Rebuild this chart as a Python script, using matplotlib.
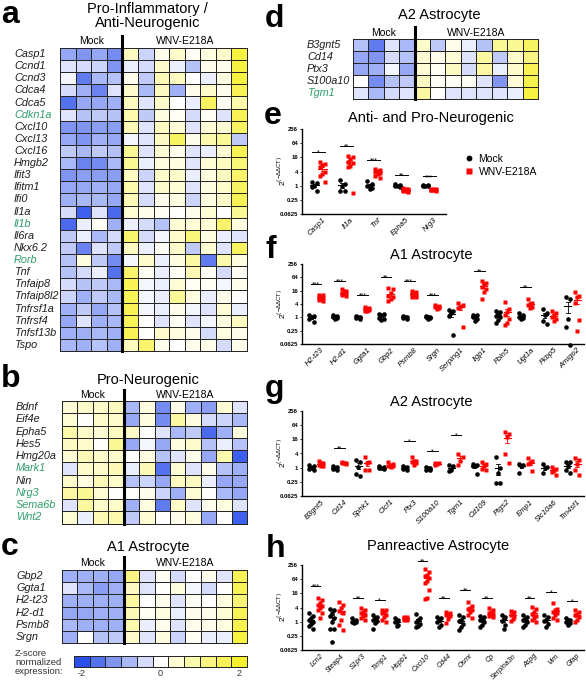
import numpy as np
import matplotlib.pyplot as plt
from matplotlib.colors import LinearSegmentedColormap
from matplotlib.lines import Line2D
from matplotlib.transforms import blended_transform_factory

plt.rcParams['font.family'] = ['Liberation Sans', 'DejaVu Sans']

# ---------------- heatmap data: z-scores, 4 Mock + 8 WNV-E218A columns ----------------
a_genes = ['Casp1', 'Ccnd1', 'Ccnd3', 'Cdca4', 'Cdca5', 'Cdkn1a', 'Cxcl10', 'Cxcl13', 'Cxcl16',
           'Hmgb2', 'Ifit3', 'Ifitm1', 'Ifi0', 'Il1a', 'Il1b', 'Il6ra', 'Nkx6.2', 'Rorb', 'Tnf',
           'Tnfaip8', 'Tnfaip8l2', 'Tnfrsf1a', 'Tnfrsf4', 'Tnfsf13b', 'Tspo']
a_green = ['Cdkn1a', 'Il1b', 'Rorb']
a_z = [
    [-1.0, -1.2, -1.0, -1.3, 0.6, -0.5, 0.2, 0.5, 0.1, 0.3, 0.5, 1.8],
    [-0.3, -0.4, -0.5, -1.2, -0.2, -0.4, 0.5, -0.2, -0.7, 0.2, 0.2, 1.8],
    [-0.1, -1.5, -0.8, -0.7, 0.2, -0.6, 0.7, 0.6, 0.0, -0.2, 0.3, 1.8],
    [-0.4, -0.9, -1.4, -0.3, 0.5, -0.8, 0.6, -0.9, 0.2, 0.5, 0.2, 1.6],
    [-1.6, -1.0, -1.0, -0.9, 0.6, -0.3, 0.5, 0.0, -0.2, 1.5, 0.1, 0.8],
    [-0.3, -0.7, -0.6, -0.7, 0.8, -0.6, 0.3, 0.1, -0.4, 0.1, -0.3, 1.6],
    [-1.2, -1.2, -1.1, -1.1, 0.7, -0.3, 0.6, 0.4, -0.3, 0.4, 0.4, 1.5],
    [-1.0, -1.2, -0.9, -1.0, -0.1, -0.3, 0.6, 1.5, 0.2, 0.8, 1.0, -0.6],
    [-0.6, -0.8, -0.6, -0.7, 1.0, -0.3, 0.4, 0.2, -0.3, -0.2, 0.4, 1.6],
    [-0.8, -1.4, -1.3, -0.8, 1.0, -0.2, 0.3, 0.3, -0.3, 0.4, 0.6, 1.3],
    [-1.2, -1.1, -1.1, -1.1, 0.6, -0.5, 0.5, 0.5, -0.2, 0.3, 0.6, 1.4],
    [-1.0, -1.0, -0.9, -1.0, 0.8, -0.3, 0.5, 0.4, -0.3, 0.3, 0.5, 1.5],
    [-0.9, -0.8, -0.8, -1.0, 0.7, -0.4, 0.2, 0.3, -0.5, 0.3, 0.5, 1.6],
    [-0.4, -1.8, -0.3, -1.7, 0.4, 0.2, 0.1, 0.0, 0.2, 0.4, 0.0, 1.0],
    [-1.7, -0.2, 0.1, -0.9, -0.2, -0.4, -0.7, 0.4, 0.4, 0.4, 1.4, 0.3],
    [-0.6, -0.2, -0.8, -0.4, 1.4, -0.4, -0.1, 0.5, 1.3, 0.3, -0.2, -0.3],
    [-0.6, -1.4, -0.3, -0.6, 0.6, -0.2, 0.1, 0.5, -0.6, 0.4, -0.3, 1.5],
    [-0.7, 0.3, -0.6, -1.3, -0.1, 0.5, -0.2, 0.3, 0.9, -1.5, 0.8, 0.3],
    [-0.7, -0.4, -0.2, -1.6, 1.4, 0.1, -0.2, 0.1, 0.7, 0.1, -0.4, 0.1],
    [-0.4, -0.7, -0.6, -0.8, 1.6, -0.1, -0.2, 0.4, 0.1, 0.1, -0.1, 0.2],
    [-0.5, -0.9, -0.6, -0.8, 1.6, -0.1, -0.2, 1.0, 0.3, -0.2, 0.2, 0.0],
    [-0.9, -0.6, -1.0, -0.7, 1.6, -0.1, -0.2, 0.2, -0.1, -0.3, 0.4, -0.2],
    [-1.0, -0.3, -0.9, -0.8, 1.6, 0.0, -0.3, 0.1, -0.3, -0.1, 0.3, 0.6],
    [-0.9, -0.9, -0.8, -0.9, 1.6, 0.0, 0.5, 0.3, 0.2, -0.4, 0.3, 0.2],
    [-0.8, -0.9, -0.7, -0.9, 0.6, 1.4, 0.2, 0.0, 0.2, 0.2, -0.4, 0.2],
]

b_genes = ['Bdnf', 'Eif4e', 'Epha5', 'Hes5', 'Hmg20a', 'Mark1', 'Nin', 'Nrg3', 'Sema6b', 'Wnt2']
b_green = ['Mark1', 'Nrg3', 'Sema6b', 'Wnt2']
b_z = [
    [0.4, 0.5, 0.5, 0.6, -0.8, 0.3, -1.3, 0.2, -0.9, -1.1, 0.4, -0.3],
    [0.4, 0.0, 0.5, 0.5, -1.0, 0.3, -1.3, 0.9, 0.3, -0.4, -0.5, -0.8],
    [0.8, 0.5, 0.4, 0.6, 0.5, 0.0, -0.3, -0.8, -0.6, -1.7, -0.9, 0.3],
    [0.6, 0.5, 0.0, 1.0, -1.0, -0.1, -1.0, 0.3, 0.5, -0.7, -0.2, -0.7],
    [0.4, 0.7, 0.5, 0.5, 0.0, 0.3, -0.7, -0.3, 0.2, -1.0, 0.8, -1.8],
    [-0.3, 0.5, 0.5, 0.7, -0.2, 0.7, -1.6, 0.4, -0.3, 0.2, -0.7, -0.9],
    [0.5, 0.3, 0.7, 0.5, -0.7, -0.5, -1.0, 0.6, 0.6, -0.2, -1.0, -1.0],
    [0.9, 1.0, 0.4, 0.0, 0.0, 0.2, -0.5, -0.9, 0.4, 0.0, -0.8, -1.0],
    [-0.3, 0.9, 0.5, 0.5, -0.9, 0.3, -1.5, 0.5, -0.3, 0.2, 0.3, -0.3],
    [0.4, -0.2, 0.7, 0.8, -0.6, 0.4, 0.0, 0.2, 0.3, -1.0, 0.0, -1.8],
]

c_genes = ['Gbp2', 'Ggta1', 'H2-t23', 'H2-d1', 'Psmb8', 'Srgn']
c_z = [
    [-0.9, -0.9, -0.9, -1.0, 1.2, -0.3, 0.1, -0.4, 0.0, 0.2, -0.3, 1.6],
    [-0.3, -0.8, -1.1, -0.9, 0.6, -0.3, 0.0, 0.3, -0.1, -0.4, 0.0, 1.6],
    [-0.9, -0.9, -0.9, -0.9, 0.9, 0.0, 0.2, -0.3, 0.1, 0.0, 0.3, 1.3],
    [-1.0, -1.0, -0.9, -0.9, 0.7, 0.1, 0.3, -0.2, 0.2, 0.2, 0.4, 1.6],
    [-0.8, -0.9, -0.9, -0.9, 0.8, -0.2, 0.2, -0.3, 0.2, 0.2, 0.3, 1.7],
    [-0.9, 0.0, -0.7, -0.6, 0.5, -0.3, 0.3, -0.5, 0.1, -0.2, -0.2, 1.8],
]

d_genes = ['B3gnt5', 'Cd14', 'Ptx3', 'S100a10', 'Tgm1']
d_green = ['Tgm1']
d_z = [
    [-0.7, -1.5, -0.3, -0.8, 0.5, -0.6, 0.2, -0.2, -0.7, 1.0, 1.0, 1.5],
    [-1.0, -1.2, -0.4, -0.7, 0.4, 0.2, 0.4, -0.3, 0.9, -0.6, 0.5, 1.2],
    [-1.0, -0.9, -0.1, -1.0, 0.4, 0.1, 0.6, -0.4, 0.9, -0.2, 0.5, 1.6],
    [0.0, -1.3, -0.7, -0.6, 0.6, 0.1, 0.1, 0.1, -0.3, -1.2, 0.4, 1.7],
    [-0.3, -0.8, -0.4, -0.3, 0.9, 0.0, -0.3, -0.3, -0.3, -0.3, -0.2, 1.8],
]

cbar_levels = [-2.0, -1.6, -1.2, -0.8, -0.4, 0.0, 0.4, 0.8, 1.2, 1.6, 2.0]

# ---------------- qPCR data: log2 of 2^(-ddCT) per animal ----------------
e_genes = ['Casp1', 'Il1a', 'Tnf', 'Epha5', 'Nrg3']
e_mock = [[0.5, 0.4, 0.0, -0.2, -0.8], [0.8, 0.3, 0.0, -0.7, -0.7], [0.6, 0.2, 0.0, -0.1, -0.3, -0.5],
          [0.2, 0.1, 0.0, -0.1, -0.2], [0.1, 0.05, 0.0, 0.0, -0.05]]
e_wnv = [[3.3, 3.1, 2.9, 2.6, 2.0, 1.6, 1.3, 0.5], [4.2, 4.0, 3.8, 3.4, 3.2, 2.8, 2.6, -1.1],
         [2.3, 2.2, 2.1, 2.0, 1.8, 1.6, 1.4, 1.1], [-0.3, -0.4, -0.5, -0.6, -0.6, -0.7, -0.8, -0.9],
         [-0.4, -0.45, -0.5, -0.55, -0.6, -0.6, -0.65, -0.7]]
e_stars = ['*', '**', '***', '**', '***']
e_star_y = [4.75, 5.65, 3.6, 1.55, 1.3]

f_genes = ['H2-t23', 'H2-d1', 'Ggta1', 'Gbp2', 'Psmb8', 'Srgn', 'Serping1', 'Iigp1', 'Fbln5',
           'Ugt1a', 'Fkbp5', 'Amigo2']
f_mock = [[0.4, 0.2, 0.0, -0.3, -0.7], [0.3, 0.2, 0.1, 0.0, -0.1, -0.2], [0.2, 0.1, 0.0, -0.1, -0.2],
          [0.5, 0.5, 0.4, -0.1, -0.2, -0.4], [0.2, 0.1, 0.0, -0.1, -0.2], [0.2, 0.1, 0.0, 0.0, -0.1, -0.2],
          [1.1, 0.9, 0.6, 0.2, -2.7], [0.4, 0.3, 0.1, 0.0, -0.3, -0.6], [1.0, 0.8, 0.5, 0.2, 0.0, -0.4, -0.8],
          [0.7, 0.3, 0.1, 0.0, -0.1, -0.2], [1.2, 0.6, 0.4, -0.6, -1.0], [3.1, 2.8, -0.3, -1.5, -4.1]]
f_wnv = [[3.4, 3.3, 3.1, 3.0, 2.9, 2.8, 2.6, 2.4], [4.2, 4.0, 3.9, 3.7, 3.6, 3.5, 3.4, 3.2],
         [1.5, 1.4, 1.3, 1.2, 1.1, 1.0, 0.9], [4.4, 4.2, 3.6, 3.2, 3.0, 2.7, 2.5],
         [4.0, 3.8, 3.7, 3.5, 3.4, 3.3, 3.1, 3.0], [1.8, 1.7, 1.6, 1.5, 1.4, 1.2],
         [2.2, 1.9, 1.6, 1.4, -1.4], [5.5, 5.2, 5.0, 4.6, 4.2, 3.8, 2.8],
         [2.3, 1.2, 0.8, 0.4, -0.3, -0.8, -1.2], [2.8, 2.2, 2.0, 1.8, 1.6, 1.4],
         [0.9, 0.6, 0.3, 0.0, -0.3, -0.6], [3.8, 3.2, 3.1, 2.1, -0.4, -2.1]]
f_stars = ['***', '***', '***', '**', '***', '***', '', '**', '', '**', '', '']
f_star_y = [5.0, 5.5, 3.3, 6.0, 5.4, 3.3, 0, 6.9, 0, 4.5, 0, 0]

g_genes = ['B3gnt5', 'Cd14', 'Sphk1', 'Clcf1', 'Ptx3', 'S100a10', 'Tgm1', 'Cd109', 'Ptgs2', 'Emp1',
           'Slc10a6', 'Tm4sf1']
g_mock = [[0.4, 0.3, 0.0, -0.2, -0.4], [0.2, 0.1, 0.0, -0.2, -0.4], [1.1, 0.8, 0.1, -0.9, -1.2],
          [0.2, 0.1, 0.0, -0.1, -0.2], [0.3, 0.1, 0.0, -0.2, -0.4], [0.1, 0.0, -0.1, -0.3, -0.4],
          [0.4, 0.2, -0.3, -0.5], [0.5, 0.4, 0.3, 0.2, -0.9], [1.5, -0.1, -0.8, -2.1, -2.1],
          [0.5, 0.4, 0.2, -0.7], [0.5, 0.1, -0.1, -0.8], [0.8, 0.8, 0.2, -0.3, -0.8]]
g_wnv = [[0.9, 0.7, 0.6, 0.4, 0.3, 0.2], [0.8, 0.7, 0.6, 0.6, 0.5], [1.5, 0.8, 0.6, -0.3, -0.3],
         [0.8, 0.5, 0.4, 0.3, 0.2, 0.1], [1.5, 1.0, 0.9, 0.8, 0.6, 0.4], [0.7, 0.6, 0.5, 0.4],
         [1.9, 1.5, 1.0, 0.4], [0.8, 0.5, 0.2, -0.2, -0.3], [5.1, 4.8, 4.4, 1.9, 0.7],
         [1.3, 1.0, 0.7, 0.5, -0.5], [0.1, -0.2, -0.4, -0.6, -1.0], [1.3, 1.1, 0.5, -0.3, -1.0]]
g_stars = ['', '**', '', '', '*', '*', '*', '', '', '', '', '']
g_star_y = [0, 2.8, 0, 0, 3.8, 2.35, 4.6, 0, 0, 0, 0, 0]

h_genes = ['Lcn2', 'Steap4', 'S1pr3', 'Timp1', 'Hspb1', 'Cxcl10', 'Cd44', 'Osmr', 'Cp', 'Serpina3n',
           'Aspg', 'Vim', 'Gfap']
h_mock = [[1.2, 0.8, 0.5, 0.2, 0.0, -0.3, -0.6, -1.0], [1.8, 1.6, 1.2, 0.8, 0.5, 0.0, -1.0, -1.0, -2.8],
          [0.5, 0.3, 0.1, 0.0, -0.1, -0.2], [0.9, 0.7, 0.5, 0.3, 0.1, -0.2, -1.0],
          [0.5, 0.3, 0.1, -0.1, -0.4, -0.6], [1.1, 0.5, 0.2, 0.0, -0.3, -0.6, -0.8],
          [0.7, 0.5, 0.3, 0.0, -0.5, -0.8], [1.0, 0.6, 0.3, 0.1, -0.3, -0.7, -1.2],
          [0.8, 0.6, 0.4, 0.2, 0.0, -0.4, -0.7], [1.0, 0.7, 0.4, 0.1, -0.4, -1.1],
          [0.9, 0.6, 0.4, 0.2, 0.0, -0.4, -0.8], [0.9, 0.6, 0.3, 0.1, -0.3, -0.7],
          [0.5, 0.3, 0.2, 0.0, -0.2, -0.4]]
h_wnv = [[3.3, 3.0, 2.7, 2.4, 2.2, 2.0, 1.7, 1.2, 0.5], [2.8, 2.3, 2.0, 1.5, 1.2, 0.3, -0.5, -1.2],
         [2.0, 1.7, 1.4, 1.2, 1.0, 0.8, 0.5, 0.3], [1.7, 1.6, 1.4, 1.2, 1.0, 0.6, 0.3, 0.0],
         [0.7, 0.6, 0.5, 0.45, 0.4, 0.35, 0.3, 0.25], [7.5, 7.0, 6.6, 6.4, 6.2, 5.8, 5.5, 4.5, 3.4, 3.2],
         [1.3, 1.2, 1.1, 1.0, 0.8, 0.4, -0.2], [2.8, 2.2, 2.0, 1.8, 1.6, 1.4, 1.0, 0.5],
         [1.9, 1.6, 1.4, 1.2, 1.1, 1.0, 0.8, 0.6], [1.5, 1.3, 1.1, 0.9, 0.7, 0.4, 0.1],
         [2.1, 1.8, 1.4, 1.1, 0.8, 0.5, 0.2, 0.0], [2.6, 1.8, 1.6, 1.4, 1.2, 0.9, 0.5, 0.3],
         [1.7, 1.4, 1.1, 0.9, 0.6, 0.3, 0.0]]
h_stars = ['***', '', '**', '*', '', '**', '**', '**', '**', '', '**', '*', '*']
h_star_y = [5.0, 0, 3.4, 3.1, 0, 8.6, 3.3, 4.5, 3.3, 0, 3.3, 4.25, 2.95]

y_ticks = [-4, -2, 0, 2, 4, 6, 8]
y_ticklabels = ['0.0625', '0.25', '1', '4', '16', '64', '256']

# ---------------- figure ----------------
W, H = 586, 680
fig = plt.figure(figsize=(W / 100, H / 100), dpi=100)


def fx(x):
    return x / W


def fy(y):
    return 1 - y / H


def box(x0, y0, x1, y1):
    return [x0 / W, 1 - y1 / H, (x1 - x0) / W, (y1 - y0) / H]


cmap = LinearSegmentedColormap.from_list('bwy', ['#2b4fea', '#ffffff', '#f6ef2e'])
GREEN = '#2f9d6a'


def heatmap(x0, y0, x1, y1, genes, z, green, label_x, sep_top, title, title_y):
    ax = fig.add_axes(box(x0, y0, x1, y1))
    mesh = ax.pcolormesh(np.array(z), cmap=cmap, vmin=-2, vmax=2,
                         edgecolors='#262626', linewidth=0.7)
    mesh.set_clip_on(False)
    ax.set_xlim(0, 12)
    ax.set_ylim(len(genes), 0)
    ax.axis('off')
    tr = blended_transform_factory(fig.transFigure, ax.transData)
    for i, g in enumerate(genes):
        ax.text(fx(label_x), i + 0.5, g, transform=tr, ha='left', va='center',
                style='italic', fontsize=7.8, color=GREEN if g in green else '#1e1e1e')
    xs = x0 + (x1 - x0) / 3
    fig.add_artist(Line2D([fx(xs), fx(xs)], [fy(sep_top), fy(y1)], color='black', lw=2.2))
    fig.text(fx(x0 + (x1 - x0) / 6), fy(y0 - 6.5), 'Mock', ha='center', va='center', fontsize=7.5)
    fig.text(fx(x0 + (x1 - x0) * 2 / 3), fy(y0 - 6.5), 'WNV-E218A', ha='center', va='center',
             fontsize=7.5)
    fig.text(fx((x0 + x1) / 2 - 6), fy(title_y), title, ha='center', va='center', fontsize=10.5,
             linespacing=1.0)


heatmap(60, 48, 247, 351, a_genes, a_z, a_green, 14, 36,
        'Pro-Inflammatory /\nAnti-Neurogenic', 16.5)
heatmap(62, 401, 247, 523.5, b_genes, b_z, b_green, 16, 390, 'Pro-Neurogenic', 380)
heatmap(62, 570, 247, 643, c_genes, c_z, [], 16, 557, 'A1 Astrocyte', 547.5)
heatmap(353, 39, 538, 99, d_genes, d_z, d_green, 307, 27, 'A2 Astrocyte', 15)

# colour key
cax = fig.add_axes(box(74, 656, 247, 667))
edges = np.linspace(-2.2, 2.2, len(cbar_levels) + 1)
cm = cax.pcolormesh(edges, [0, 1], np.array([cbar_levels]), cmap=cmap, vmin=-2, vmax=2,
                    edgecolors='#262626', linewidth=0.7)
cm.set_clip_on(False)
cax.set_xlim(-2.2, 2.2)
cax.set_ylim(0, 1)
cax.axis('off')
for v in [-2, 0, 2]:
    cax.annotate(str(v), (v, 0), xytext=(0, -1.5), textcoords='offset points',
                 ha='center', va='top', fontsize=6.5, color='#333333', annotation_clip=False)
fig.text(fx(15), fy(662.5), 'Z-score\nnormalized\nexpression:', ha='left', va='center',
         fontsize=6.8, color='#333333', linespacing=0.95)


def scatter(x0, y0, x1, y1, xmax, genes, mock, wnv, stars, star_y, offs, label_size=5.5):
    ax = fig.add_axes(box(x0, y0, x1, y1))
    n = len(genes)
    spread = [-0.09, 0.09, 0.0]
    for i in range(n):
        for vals, off, col, mk, ms in ((mock[i], offs[0], 'black', 'o', 3.3),
                                       (wnv[i], offs[1], 'red', 's', 3.1)):
            v = np.array(vals, dtype=float)
            order = np.argsort(-v)
            jit = np.zeros(len(v))
            for k, idx in enumerate(order):
                jit[idx] = spread[k % 3]
            xc = i + off
            ax.plot(xc + jit, v, mk, color=col, ms=ms, mec='none', clip_on=False, zorder=3)
            lin = 2.0 ** v
            m = lin.mean()
            se = lin.std(ddof=1) / np.sqrt(len(lin))
            ym = np.log2(m)
            lo = np.log2(m - se) if m - se > 0.0625 else -4
            hi = np.log2(m + se)
            ax.plot([xc - 0.15, xc + 0.15], [ym, ym], color=col, lw=0.8, zorder=4)
            ax.plot([xc, xc], [lo, hi], color=col, lw=0.6, zorder=4)
            for yy in (lo, hi):
                ax.plot([xc - 0.07, xc + 0.07], [yy, yy], color=col, lw=0.6, zorder=4)
        if stars[i]:
            cx = i + (offs[0] + offs[1]) / 2
            ax.plot([cx - 0.23, cx + 0.23], [star_y[i]] * 2, color='black', lw=0.7, clip_on=False)
            ax.annotate(stars[i], (cx, star_y[i]), xytext=(0, -1.8), textcoords='offset points',
                        ha='center', va='baseline', fontsize=5, annotation_clip=False)
    ax.set_xlim(-0.5, xmax)
    ax.set_ylim(-4, 8)
    ax.set_yticks(y_ticks)
    ax.set_yticklabels(y_ticklabels, fontsize=4.3, fontweight='bold')
    ax.set_xticks([i + offs[1] for i in range(n)])
    ax.set_xticklabels(genes, rotation=45, ha='right', rotation_mode='anchor',
                       fontsize=label_size, style='italic')
    ax.tick_params(axis='y', length=1.8, width=0.6, pad=1)
    ax.tick_params(axis='x', length=0, pad=1.8)
    for s in ['top', 'right']:
        ax.spines[s].set_visible(False)
    for s in ['left', 'bottom']:
        ax.spines[s].set_linewidth(1.0)
    fig.text(fx(282), fy((y0 + y1) / 2), r'2$^{(\mathregular{-\Delta\Delta CT})}$', rotation=90,
             ha='center', va='center', fontsize=6)
    return ax


scatter(302, 129, 446, 214, 4.7, e_genes, e_mock, e_wnv, e_stars, e_star_y, (-0.05, 0.24))
scatter(302, 264, 584, 344, 11.6, f_genes, f_mock, f_wnv, f_stars, f_star_y, (-0.09, 0.3))
scatter(302, 411, 584, 496, 11.6, g_genes, g_mock, g_wnv, g_stars, g_star_y, (-0.09, 0.3))
scatter(302, 565, 584, 650, 12.68, h_genes, h_mock, h_wnv, h_stars, h_star_y, (-0.08, 0.34),
        label_size=5.1)

fig.text(fx(431), fy(118), 'Anti- and Pro-Neurogenic', ha='center', va='center', fontsize=10.5)
fig.text(fx(431), fy(255), 'A1 Astrocyte', ha='center', va='center', fontsize=10.5)
fig.text(fx(431), fy(402), 'A2 Astrocyte', ha='center', va='center', fontsize=10.5)
fig.text(fx(438), fy(546), 'Panreactive Astrocyte', ha='center', va='center', fontsize=10.5)

handles = [Line2D([], [], marker='o', color='black', ls='none', ms=4.2, mec='none'),
           Line2D([], [], marker='s', color='red', ls='none', ms=4.0, mec='none')]
fig.legend(handles, ['Mock', 'WNV-E218A'], loc='center left', bbox_to_anchor=(fx(465), fy(165.5)),
           frameon=False, fontsize=7.5, handlelength=0.8, handletextpad=0.5, labelspacing=0.3,
           borderpad=0, borderaxespad=0)

# panel letters
for letter, x, y in [('a', 1, 23), ('b', 1, 387), ('c', 1, 555), ('d', 265, 27), ('e', 264, 124),
                     ('f', 266, 258), ('g', 265, 397), ('h', 266, 557)]:
    fig.text(fx(x), fy(y), letter, ha='left', va='baseline', fontsize=23, fontweight='bold')

fig.savefig('out.png', dpi=100)
